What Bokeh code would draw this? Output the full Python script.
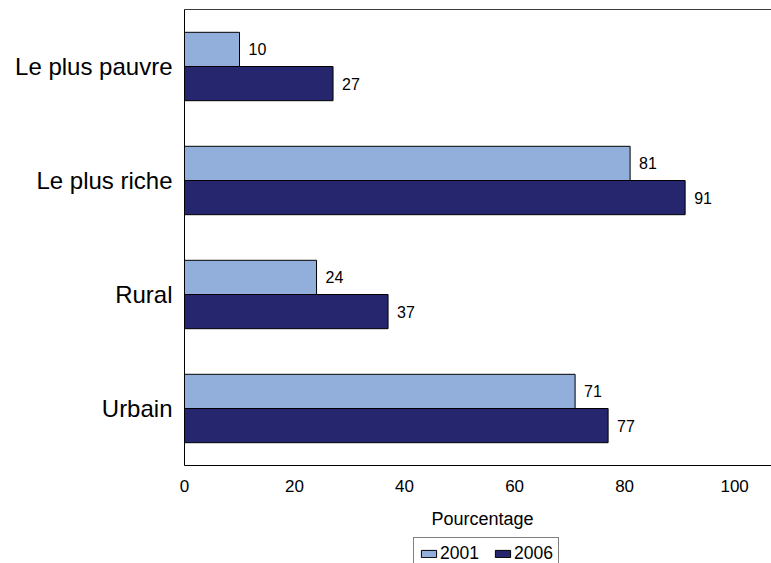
from bokeh.plotting import figure
from bokeh.layouts import column
from bokeh.models import (Range1d, FactorRange, Legend, LegendItem, Label,
                          ColumnDataSource, LinearAxis, FixedTicker)
from bokeh.transform import dodge
from bokeh.core.properties import value
from bokeh.embed import file_html
from bokeh.resources import INLINE

categories = ["Le plus pauvre", "Le plus riche", "Rural", "Urbain"]
years = ["2001", "2006"]
values_2001 = [10, 81, 24, 71]
values_2006 = [27, 91, 37, 77]
x_ticks = [0, 20, 40, 60, 80, 100]
x_label = "Pourcentage"

FONT = "Liberation Sans"
LIGHT = "#92AFDC"
DARK = "#25266E"

src = ColumnDataSource(dict(
    cat=categories,
    v1=values_2001,
    v2=values_2006,
    t1=[str(v) for v in values_2001],
    t2=[str(v) for v in values_2006],
))

# ---------- main chart ----------
p = figure(width=771, height=503, output_backend="svg", toolbar_location=None,
           y_range=FactorRange(factors=list(reversed(categories)), range_padding=0),
           x_range=Range1d(0, 106.7),
           min_border_left=184, min_border_right=0, min_border_top=9, min_border_bottom=38)

p.hbar(y=dodge("cat", 0.15, range=p.y_range), left=0, right="v1", height=0.3,
       fill_color=LIGHT, line_color="black", line_width=1, source=src)
p.hbar(y=dodge("cat", -0.15, range=p.y_range), left=0, right="v2", height=0.3,
       fill_color=DARK, line_color="black", line_width=1, source=src)

p.text(x="v1", y=dodge("cat", 0.15, range=p.y_range), text="t1", x_offset=9,
       text_baseline="middle", text_align="left", text_font_size="16px",
       text_font=value(FONT), text_color="black", source=src)
p.text(x="v2", y=dodge("cat", -0.15, range=p.y_range), text="t2", x_offset=9,
       text_baseline="middle", text_align="left", text_font_size="16px",
       text_font=value(FONT), text_color="black", source=src)

p.xgrid.grid_line_color = None
p.ygrid.grid_line_color = None
p.outline_line_color = None
p.background_fill_color = "white"
p.border_fill_color = "white"

xa = p.xaxis[0]
xa.ticker = x_ticks
xa.major_tick_line_color = None
xa.minor_tick_line_color = None
xa.major_tick_out = 0
xa.major_tick_in = 0
xa.major_label_standoff = 14
xa.major_label_text_font = FONT
xa.major_label_text_font_size = "17px"
xa.major_label_text_color = "black"
xa.axis_line_color = "black"

ya = p.yaxis[0]
ya.major_tick_line_color = None
ya.minor_tick_line_color = None
ya.major_tick_out = 0
ya.major_tick_in = 0
ya.major_label_standoff = 12
ya.major_label_text_font = FONT
ya.major_label_text_font_size = "24px"
ya.major_label_text_color = "black"
ya.axis_line_color = "black"

top_axis = LinearAxis(ticker=FixedTicker(ticks=[]), major_tick_out=0, major_tick_in=0,
                      minor_tick_out=0, minor_tick_in=0, major_tick_line_color=None,
                      minor_tick_line_color=None, axis_line_color="#3c3c3c")
p.add_layout(top_axis, "above")

# ---------- bottom strip: axis title + legend ----------
q = figure(width=771, height=60, output_backend="svg", toolbar_location=None,
           x_range=Range1d(0, 110), y_range=Range1d(0, 1),
           x_axis_type=None, y_axis_type=None,
           min_border_left=0, min_border_right=0, min_border_top=0, min_border_bottom=0)
q.outline_line_color = None
q.xgrid.grid_line_color = None
q.ygrid.grid_line_color = None
q.background_fill_color = "white"
q.border_fill_color = "white"

q.add_layout(Label(x=298, y=45, x_units="screen", y_units="screen", text=x_label,
                   text_align="center", text_baseline="alphabetic", text_font=FONT,
                   text_font_size="18px", text_color="black"))

# hidden copies of the series, used only as legend keys
k1 = q.hbar(y="v1", left=0, right="v1", height=1, fill_color=LIGHT, line_color="black",
            line_width=1, source=src, visible=False)
k2 = q.hbar(y="v2", left=0, right="v2", height=1, fill_color=DARK, line_color="black",
            line_width=1, source=src, visible=False)

legend = Legend(items=[LegendItem(label=years[0], renderers=[k1]),
                       LegendItem(label=years[1], renderers=[k2])],
                location=(229, -7), orientation="horizontal",
                border_line_color="black", border_line_width=1,
                background_fill_alpha=1, padding=5, spacing=14, margin=0,
                glyph_width=19, glyph_height=9, label_standoff=2,
                inactive_fill_alpha=0,
                label_text_font=FONT, label_text_font_size="17.5px",
                label_text_color="black")
q.add_layout(legend, "center")

layout = column(p, q, spacing=0)
open("out.html", "w").write(file_html(layout, INLINE))
